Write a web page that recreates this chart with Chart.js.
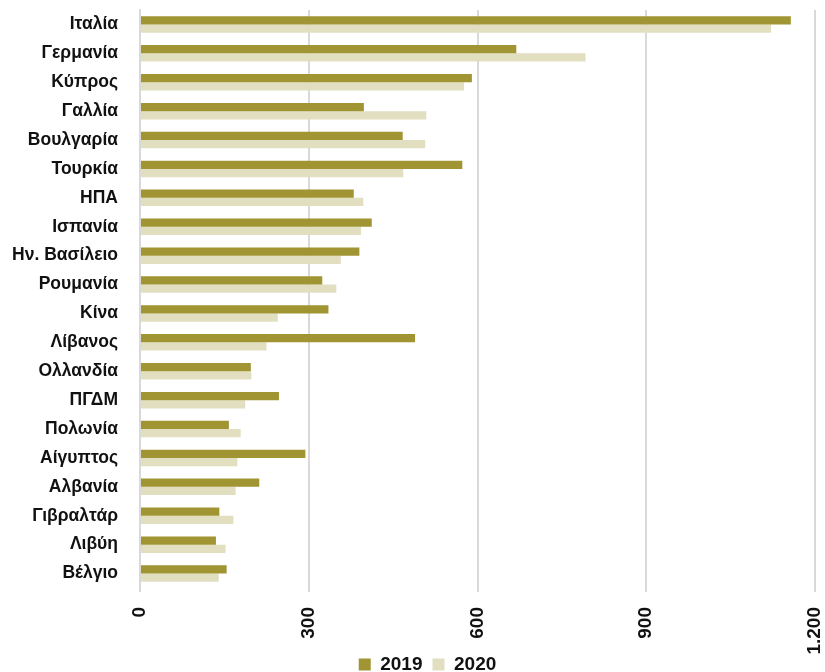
<!DOCTYPE html>
<html>
<head>
<meta charset="utf-8">
<script src="https://cdn.jsdelivr.net/npm/chart.js@4/dist/chart.umd.min.js"></script>
<style>
  html, body { margin: 0; padding: 0; background: #fff; }
  #wrap { width: 825px; height: 672px; position: relative; }
</style>
</head>
<body>
<div id="wrap"><canvas id="chart"></canvas></div>
<script>
'use strict';

// ── Data ─────────────────────────────────────────────────────────────────────
const COUNTRIES = [
  'Ιταλία', 'Γερμανία', 'Κύπρος', 'Γαλλία', 'Βουλγαρία', 'Τουρκία', 'ΗΠΑ',
  'Ισπανία', 'Ην. Βασίλειο', 'Ρουμανία', 'Κίνα', 'Λίβανος', 'Ολλανδία', 'ΠΓΔΜ',
  'Πολωνία', 'Αίγυπτος', 'Αλβανία', 'Γιβραλτάρ', 'Λιβύη', 'Βέλγιο'
];
const VALUES_2019 = [1157, 669, 590, 398, 467, 573, 380, 412, 390, 324, 335, 489, 197, 247, 158, 294, 212, 141, 135, 154];
const VALUES_2020 = [1122, 792, 576, 509, 507, 468, 397, 393, 357, 349, 245, 225, 198, 187, 179, 173, 170, 166, 152, 140];
const X_MAX = 1200;
const X_STEP = 300;

const FONT = '"Liberation Sans", Arial, sans-serif';

// 1200 -> "1.200"
function fmtNum(v) {
  return String(v).replace(/\B(?=(\d{3})+(?!\d))/g, '.');
}

// legend sits a bit left of page centre and low, like the original
const legendPos = {
  id: 'legendPos',
  afterLayout(chart) {
    const l = chart.legend;
    if (!l) return;
    const h = l.height;
    l.left = 30; l.right = 825;
    l.top = 645; l.bottom = l.top + h;
  },
};

new Chart(document.getElementById('chart'), {
  type: 'bar',
  data: {
    labels: COUNTRIES,
    datasets: [
      { label: '2019', data: VALUES_2019, backgroundColor: '#a09433' },
      { label: '2020', data: VALUES_2020, backgroundColor: '#e2dfc0' },
    ],
  },
  plugins: [legendPos],
  options: {
    indexAxis: 'y',
    responsive: true,
    maintainAspectRatio: false,
    animation: false,
    layout: { padding: { top: 10, right: 10, left: 0, bottom: -24 } },
    datasets: { bar: { categoryPercentage: 0.57, barPercentage: 1.0 } },
    plugins: {
      legend: {
        position: 'bottom',
        labels: {
          boxWidth: 12, boxHeight: 12, padding: 10,
          color: '#111',
          font: { family: FONT, size: 19, weight: 'bold' },
        },
      },
      tooltip: { enabled: false },
    },
    scales: {
      x: {
        min: 0, max: X_MAX,
        ticks: {
          stepSize: X_STEP,
          minRotation: 90, maxRotation: 90,
          color: '#111',
          padding: 15,
          font: { family: FONT, size: 19, weight: 'bold' },
          callback: v => fmtNum(v),
        },
        grid: { color: '#d9d9d9', lineWidth: 2, tickLength: 4 },
        border: { display: false },
        afterFit: s => { s.height = 69; s.paddingLeft = 0; s.paddingRight = 0; },
      },
      y: {
        ticks: {
          color: '#111',
          padding: 14,
          font: { family: FONT, size: 17.5, weight: 'bold' },
        },
        grid: { display: false },
        border: { display: true, color: '#d9d9d9', width: 2 },
        afterFit: s => { s.width = 140; s.paddingTop = 0; s.paddingBottom = 0; },
      },
    },
  },
});
</script>
</body>
</html>
